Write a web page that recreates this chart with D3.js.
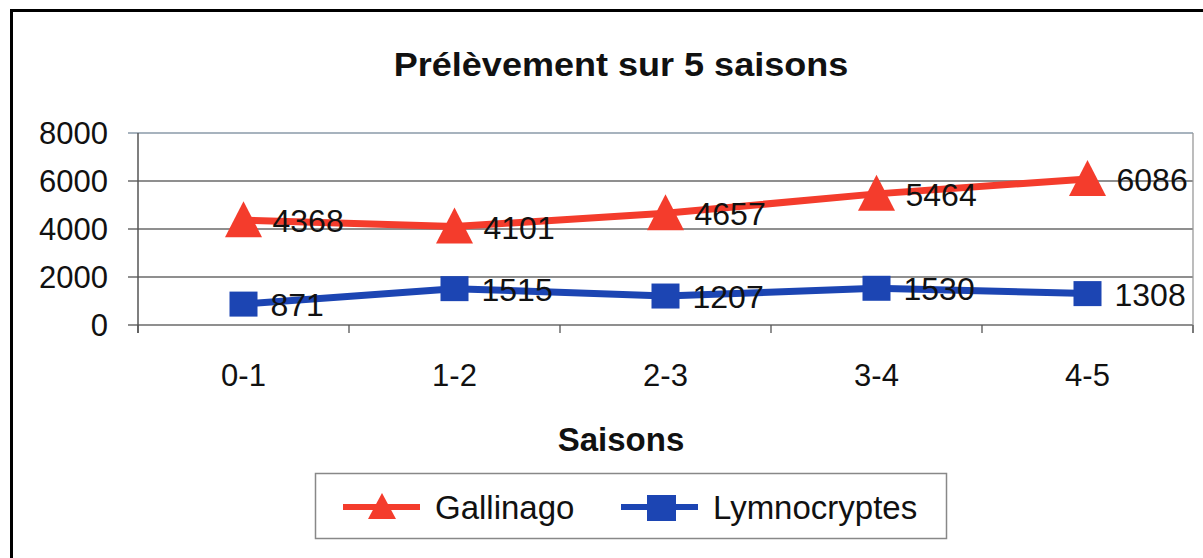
<!DOCTYPE html>
<html><head><meta charset="utf-8">
<script src="https://cdn.jsdelivr.net/npm/d3@7"></script>
<style>body{margin:0;background:#fff}svg{display:block}text{font-family:"Liberation Sans",Arial,sans-serif;fill:#111}</style>
</head><body><svg id="c" width="1203" height="558"></svg>
<script>
const categories = ["0-1","1-2","2-3","3-4","4-5"];
const gallinago = [4368,4101,4657,5464,6086];
const lymnocryptes = [871,1515,1207,1530,1308];
const yTicks = [0,2000,4000,6000,8000];
const seriesNames = ["Gallinago","Lymnocryptes"];
const title = "Prélèvement sur 5 saisons";
const xTitle = "Saisons";

const RED = "#f43c2c", BLUE = "#1c45b3";
const svg = d3.select("#c");
const L = 138, R = 1193, T = 133, B = 325;
const x = d3.scaleBand().domain(categories).range([L, R]);
const y = d3.scaleLinear().domain([0, 8000]).range([B, T]);

function txt(g, s, px, py, size, anchor, weight, sx) {
  return g.append("text").text(s).attr("font-size", size)
    .attr("font-weight", weight || "normal").attr("text-anchor", anchor)
    .attr("dominant-baseline", "central")
    .attr("transform", `translate(${px},${py}) scale(${sx || 1},1)`);
}

// frame (left and top black edges)
svg.append("path").attr("d", "M11.5,558 L11.5,10.5 L1203,10.5").attr("fill","none").attr("stroke","#000").attr("stroke-width",3);

// title
txt(svg, title, 621, 64, 34, "middle", "bold", 1.06);

// gridlines
svg.append("g").selectAll("line").data(yTicks).join("line")
  .attr("x1", L - 10).attr("x2", R).attr("y1", d => y(d)).attr("y2", d => y(d))
  .attr("stroke", d => d === 8000 ? "#8a9aa8" : "#6a6a6a").attr("stroke-width", 1.3);
svg.append("line").attr("x1", R).attr("x2", R).attr("y1", T).attr("y2", B + 8).attr("stroke", "#999").attr("stroke-width", 1.3);
svg.append("line").attr("x1", L).attr("x2", L).attr("y1", T).attr("y2", B + 8).attr("stroke", "#555").attr("stroke-width", 1.5);
const bounds = categories.map(c => x(c)).concat([R]);
svg.append("g").selectAll("line").data(bounds).join("line")
  .attr("x1", d => d).attr("x2", d => d).attr("y1", B).attr("y2", B + 8)
  .attr("stroke", "#555").attr("stroke-width", 1.3);

yTicks.forEach(v => txt(svg, String(v), 108, y(v), 31, "end"));
categories.forEach(c => txt(svg, c, x(c) + x.bandwidth() / 2, 375, 31, "middle"));
txt(svg, xTitle, 621, 439, 33, "middle", "bold");

const cx = c => x(c) + x.bandwidth() / 2;
const line = d3.line().x((d, i) => cx(categories[i])).y(d => y(d));
const triPath = (w, h) => `M0,${-h/2} L${w/2},${h/2} L${-w/2},${h/2} Z`;

svg.append("path").datum(gallinago).attr("d", line).attr("fill","none").attr("stroke",RED).attr("stroke-width",7).attr("stroke-linejoin","round");
svg.append("path").datum(lymnocryptes).attr("d", line).attr("fill","none").attr("stroke",BLUE).attr("stroke-width",7).attr("stroke-linejoin","round");

svg.append("g").selectAll("path").data(gallinago).join("path")
  .attr("d", triPath(37, 36)).attr("fill", RED)
  .attr("transform", (d, i) => `translate(${cx(categories[i])},${y(d) - 1})`);
svg.append("g").selectAll("rect").data(lymnocryptes).join("rect")
  .attr("x", (d, i) => cx(categories[i]) - 14).attr("y", d => y(d) - 12.5)
  .attr("width", 28).attr("height", 25).attr("fill", BLUE);

gallinago.forEach((v, i) => txt(svg, String(v), cx(categories[i]) + 29, y(v) + 1, 32, "start"));
lymnocryptes.forEach((v, i) => txt(svg, String(v), cx(categories[i]) + 27, y(v) + 1, 32, "start"));

// legend
const lg = svg.append("g");
lg.append("rect").attr("x", 315.5).attr("y", 473.5).attr("width", 631).attr("height", 65)
  .attr("fill", "#fff").attr("stroke", "#888").attr("stroke-width", 1.5);
const legendItems = [
  {name: seriesNames[0], color: RED, x0: 343, shape: "tri"},
  {name: seriesNames[1], color: BLUE, x0: 621, shape: "sq"}
];
legendItems.forEach(it => {
  lg.append("line").attr("x1", it.x0).attr("x2", it.x0 + 77).attr("y1", 507).attr("y2", 507)
    .attr("stroke", it.color).attr("stroke-width", 6);
  if (it.shape === "tri") {
    lg.append("path").attr("d", triPath(28, 26)).attr("fill", it.color).attr("transform", `translate(${it.x0 + 39},506)`);
  } else {
    lg.append("rect").attr("x", it.x0 + 26).attr("y", 495).attr("width", 29).attr("height", 26).attr("fill", it.color);
  }
  txt(lg, it.name, it.x0 + 92, 507, 33, "start");
});
</script></body></html>
